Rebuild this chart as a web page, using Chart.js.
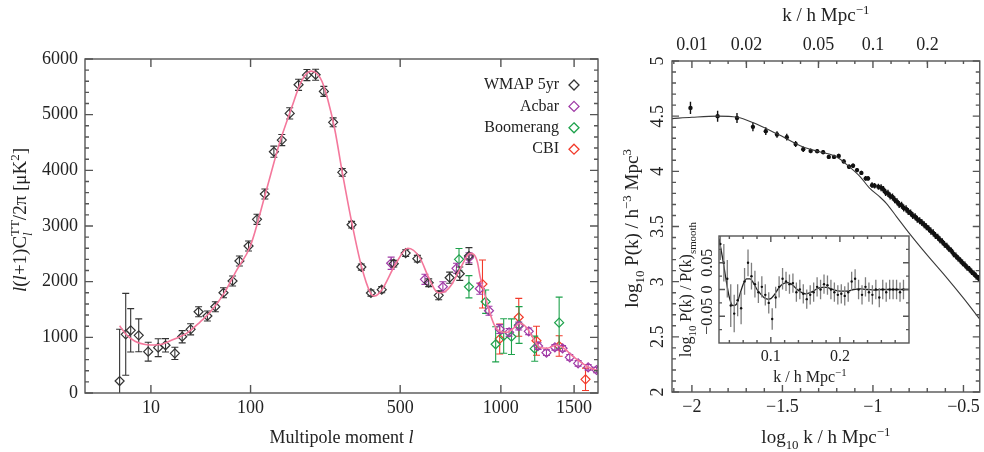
<!DOCTYPE html>
<html>
<head>
<meta charset="utf-8">
<script src="https://cdn.jsdelivr.net/npm/chart.js@4.4.1/dist/chart.umd.min.js"></script>
<style>
  html, body { margin: 0; padding: 0; background: #fff; }
  #wrap { position: relative; width: 984px; height: 452px; overflow: hidden; background: #fff; }
  canvas { position: absolute; }
</style>
</head>
<body>
<div id="wrap">
  <canvas id="cmb" width="620" height="452" style="left:0;top:0"></canvas>
  <canvas id="pk" width="364" height="452" style="left:620px;top:0"></canvas>
  <canvas id="bao" width="270" height="185" style="left:655px;top:210px"></canvas>
</div>
<script>
const FONT = '"Liberation Serif", "Times New Roman", serif';
const INK = '#222';
const FRAME = '#555';

// ---------- left panel: CMB TT power spectrum ----------
const lTicks = [10, 100, 500, 1000, 1500];

const wmapL = [2, 3, 4, 6, 9, 13, 16.5, 21.7, 26.4, 32.5, 39, 47, 55, 64, 75, 84, 97, 110, 123, 139,
  154, 170, 189, 208, 229, 250, 275, 301, 329, 360, 392, 430, 475, 522, 571, 621, 667, 720, 771, 819];
const wmapV = [215, 1054, 1126, 1036, 742, 814, 857, 713, 1011, 1144, 1460, 1383, 1550, 1801, 2012, 2371, 2640, 3120, 3574, 4334,
  4544, 5023, 5537, 5711, 5717, 5418, 4862, 3964, 3023, 2263, 1796, 1856, 2323, 2514, 2413, 1981, 1755, 2071, 2143, 2461];
const wmapE = [930, 735, 390, 295, 170, 160, 120, 110, 110, 100, 90, 90, 90, 90, 90, 90, 90, 90, 90, 100,
  100, 100, 100, 100, 100, 90, 80, 70, 60, 55, 55, 55, 60, 60, 60, 70, 80, 100, 120, 150];

const acbarL = [465, 604, 687, 754, 819, 878, 930, 993, 1050, 1111, 1176, 1239, 1297, 1357, 1413, 1467, 1531, 1610, 1678];
const acbarV = [2330, 2042, 1909, 2240, 2430, 1873, 1478, 1149, 1090, 1203, 1108, 844, 724, 821, 803, 641, 533, 461, 413];
const acbarE = [110, 90, 90, 90, 90, 100, 80, 80, 70, 70, 60, 60, 50, 50, 50, 50, 50, 50, 50];

const boomL = [767, 819, 911, 969, 1017, 1065, 1113, 1216, 1388];
const boomV = [2401, 1909, 1640, 875, 1024, 1011, 1221, 796, 1263];
const boomE = [195, 200, 210, 315, 310, 320, 330, 225, 460];

const cbiL = [893, 993, 1111, 1228, 1388, 1589];
const cbiV = [1958, 970, 1360, 939, 844, 246];
const cbiE = [430, 270, 340, 260, 185, 200];

const modelL = [2, 3, 5, 8, 10, 15, 20, 30, 40, 50, 65, 80, 100, 125, 150, 175, 190, 205, 218, 232,
  245, 260, 280, 300, 330, 360, 390, 405, 430, 480, 531, 580, 620, 650, 665, 690, 730, 780, 825, 845,
  865, 880, 900, 930, 960, 1000, 1040, 1080, 1118, 1160, 1200, 1250, 1300, 1369, 1430, 1480, 1545, 1600, 1660, 1690];
const modelV = [1209, 1060, 930, 870, 862, 880, 952, 1080, 1270, 1460, 1800, 2200, 2650, 3620, 4500, 5150, 5500, 5720, 5783, 5740,
  5600, 5280, 4720, 4000, 3050, 2280, 1800, 1742, 1850, 2300, 2599, 2440, 2080, 1850, 1800, 1810, 1950, 2280, 2509, 2490,
  2350, 2090, 1850, 1490, 1230, 1100, 1090, 1170, 1252, 1180, 1010, 820, 803, 862, 790, 680, 562, 480, 420, 400];

// ---------- right panel: galaxy power spectrum ----------
const topK = [0.01, 0.02, 0.05, 0.1, 0.2];
const logkTicks = [-2, -1.5, -1, -0.5];
const pkYTicks = [2, 2.5, 3, 3.5, 4, 4.5, 5];

const pkX = [-2.008, -1.858, -1.751, -1.663, -1.592, -1.530, -1.476, -1.427, -1.385, -1.344, -1.308, -1.275, -1.244,
  -1.215, -1.189, -1.161, -1.132, -1.110, -1.088, -1.064, -1.040, -1.027, -1.005, -0.991, -0.970,
  -0.955, -0.942, -0.930, -0.917, -0.905, -0.892, -0.880, -0.867, -0.855, -0.842, -0.830, -0.817, -0.805, -0.792,
  -0.780, -0.767, -0.755, -0.742, -0.730, -0.717, -0.705, -0.692, -0.680, -0.667, -0.655, -0.642, -0.630, -0.617,
  -0.605, -0.592, -0.580, -0.567, -0.555, -0.542, -0.530, -0.517, -0.505, -0.492, -0.480, -0.467, -0.455, -0.442, -0.430, -0.417];
const pkY = [4.575, 4.500, 4.484, 4.403, 4.364, 4.334, 4.310, 4.248, 4.200, 4.185, 4.183, 4.174, 4.131,
  4.131, 4.140, 4.090, 4.041, 4.050, 4.011, 3.986, 3.936, 3.936, 3.875, 3.869, 3.860,
  3.852, 3.835, 3.808, 3.800, 3.776, 3.768, 3.742, 3.724, 3.700, 3.692, 3.668, 3.660, 3.636, 3.622,
  3.600, 3.588, 3.566, 3.552, 3.536, 3.516, 3.498, 3.480, 3.458, 3.442, 3.418, 3.402, 3.380, 3.362,
  3.338, 3.322, 3.298, 3.280, 3.252, 3.234, 3.212, 3.192, 3.170, 3.152, 3.128, 3.112, 3.090, 3.072, 3.050, 3.030];
const pkE = [0.055, 0.05, 0.045, 0.04, 0.035, 0.03, 0.03, 0.028, 0.025, 0.022, 0.02, 0.02, 0.02,
  0.02, 0.02, 0.02, 0.02, 0.02, 0.02, 0.02, 0.022, 0.022, 0.025, 0.025, 0.028,
  0.032, 0.032, 0.032, 0.032, 0.032, 0.032, 0.032, 0.032, 0.032, 0.032, 0.032, 0.032, 0.032, 0.032,
  0.032, 0.032, 0.032, 0.032, 0.032, 0.032, 0.032, 0.032, 0.032, 0.032, 0.032, 0.032, 0.032, 0.032,
  0.03, 0.03, 0.03, 0.03, 0.03, 0.03, 0.03, 0.03, 0.03, 0.03, 0.03, 0.03, 0.03, 0.03, 0.03, 0.03];

const pkModelX = [-2.11, -2.0, -1.86, -1.75, -1.66, -1.53, -1.385, -1.29, -1.2, -1.13, -1.07, -1.02, -0.96, -0.926,
  -0.87, -0.80, -0.70, -0.60, -0.50, -0.41];
const pkModelY = [4.478, 4.49, 4.50, 4.49, 4.44, 4.34, 4.22, 4.175, 4.13, 4.04, 3.95, 3.85, 3.765, 3.71,
  3.59, 3.44, 3.24, 3.05, 2.85, 2.66];

// ---------- inset: BAO wiggles ----------
const baoTicksX = [0.1, 0.2];
const baoTicksY = [-0.05, 0, 0.05];
const baoK = [0.027, 0.032, 0.037, 0.042, 0.047, 0.052, 0.057, 0.062, 0.067, 0.072, 0.077, 0.082, 0.087, 0.092,
  0.097, 0.102, 0.107, 0.112, 0.117, 0.122, 0.127, 0.132, 0.137, 0.142, 0.147, 0.152, 0.157, 0.162, 0.167,
  0.172, 0.177, 0.182, 0.187, 0.192, 0.197, 0.202, 0.207, 0.212, 0.217, 0.222, 0.227, 0.232, 0.237, 0.242,
  0.247, 0.252, 0.257, 0.262, 0.267, 0.272, 0.277, 0.282, 0.287, 0.292];
const baoV = [0.085, 0.05, 0.02, -0.03, -0.045, -0.02, -0.035, 0.015, 0.05, 0.025, 0.01, -0.005, 0.005, -0.01,
  -0.025, -0.055, -0.015, 0.005, 0.02, 0.015, 0.01, 0.012, -0.005, 0.0, -0.008, -0.018, -0.01, -0.005, 0.005,
  0.0, 0.01, 0.008, 0.0, -0.005, -0.01, -0.008, -0.012, -0.005, 0.015, 0.02, 0.0, -0.01, 0.005, -0.005,
  -0.01, 0.0, -0.015, 0.0, -0.005, 0.0, 0.0, 0.0, -0.005, 0.0];
const baoE = [0.03, 0.035, 0.035, 0.04, 0.035, 0.03, 0.03, 0.025, 0.025, 0.025, 0.025, 0.02, 0.02, 0.02,
  0.02, 0.02, 0.02, 0.02, 0.02, 0.018, 0.018, 0.018, 0.018, 0.018, 0.018, 0.018, 0.018, 0.018, 0.018,
  0.018, 0.018, 0.018, 0.018, 0.018, 0.018, 0.018, 0.018, 0.018, 0.018, 0.018, 0.018, 0.018, 0.018, 0.018,
  0.018, 0.018, 0.018, 0.018, 0.018, 0.018, 0.018, 0.018, 0.018, 0.018];
const baoModelK = [0.025, 0.03, 0.035, 0.04, 0.045, 0.05, 0.055, 0.06, 0.065, 0.07, 0.075, 0.08, 0.085, 0.09,
  0.095, 0.10, 0.105, 0.11, 0.115, 0.12, 0.125, 0.13, 0.135, 0.14, 0.145, 0.15, 0.155, 0.16, 0.165, 0.17,
  0.175, 0.18, 0.19, 0.20, 0.21, 0.22, 0.23, 0.24, 0.25, 0.26, 0.27, 0.28, 0.29, 0.30];
const baoModelV = [0.095, 0.06, 0.02, -0.015, -0.03, -0.028, -0.01, 0.01, 0.02, 0.02, 0.012, 0.0, -0.008, -0.015,
  -0.018, -0.017, -0.01, 0.0, 0.008, 0.012, 0.013, 0.01, 0.004, -0.002, -0.006, -0.008, -0.007, -0.004, 0.0, 0.003,
  0.004, 0.004, 0.0, -0.003, -0.003, 0.0, 0.001, 0.0, -0.001, 0.0, 0.0, 0.0, 0.0, 0.0];

// the multipole axis is stretched as l^0.4
const lx = l => Math.pow(l, 0.4);
const minus = v => String(v).replace('-', '\u2212');

function pts(xs, ys, f) {
  return xs.map((x, i) => ({ x: f ? f(x) : x, y: ys[i] }));
}

function series(label, xs, ys, es, color) {
  return {
    label, data: pts(xs, ys, lx), errors: es, borderColor: color, backgroundColor: 'rgba(0,0,0,0)',
    pointStyle: 'rectRot', pointRadius: 4.5, pointBorderWidth: 1.2, cap: 3.5, errWidth: 1.1
  };
}

// text with sub/superscripts, centred on (x, y)
function richText(ctx, segs, x, y, size, angle) {
  ctx.save();
  ctx.translate(x, y);
  ctx.rotate(angle || 0);
  ctx.fillStyle = INK;
  ctx.textAlign = 'left';
  ctx.textBaseline = 'alphabetic';
  const parts = segs.map(s => {
    const fs = (s.sub || s.sup) ? size * 0.68 : size;
    const font = (s.it ? 'italic ' : '') + fs + 'px ' + FONT;
    ctx.font = font;
    return { s, font, w: ctx.measureText(s.t).width };
  });
  let total = 0, hold = 0;
  parts.forEach(p => {
    if (p.s.stack) hold = p.w;
    else { total += Math.max(p.w, hold); hold = 0; }
  });
  let cx = -total / 2;
  hold = 0;
  parts.forEach(p => {
    ctx.font = p.font;
    const dy = p.s.sub ? size * 0.28 : p.s.sup ? -size * 0.38 : 0;
    ctx.fillText(p.s.t, cx, size * 0.33 + dy);
    if (p.s.stack) hold = p.w;
    else { cx += Math.max(p.w, hold); hold = 0; }
  });
  ctx.restore();
}

function rotLabel(ctx, text, x, y, size) {
  ctx.save();
  ctx.translate(x, y);
  ctx.rotate(-Math.PI / 2);
  ctx.font = size + 'px ' + FONT;
  ctx.fillStyle = INK;
  ctx.textAlign = 'center';
  ctx.textBaseline = 'middle';
  ctx.fillText(text, 0, 0);
  ctx.restore();
}

function diamond(ctx, x, y, r, color) {
  ctx.beginPath();
  ctx.moveTo(x, y - r); ctx.lineTo(x + r, y); ctx.lineTo(x, y + r); ctx.lineTo(x - r, y);
  ctx.closePath();
  ctx.strokeStyle = color;
  ctx.lineWidth = 1.3;
  ctx.stroke();
}

// vertical error bars, drawn under each dataset's markers
const errorBars = {
  id: 'errorBars',
  beforeDatasetDraw(chart, args) {
    const ds = chart.data.datasets[args.index];
    if (!ds.errors) return;
    const ctx = chart.ctx, a = chart.chartArea, ys = chart.scales.y;
    ctx.save();
    ctx.beginPath();
    ctx.rect(a.left, a.top, a.right - a.left, a.bottom - a.top);
    ctx.clip();
    ctx.strokeStyle = ds.errColor || ds.borderColor;
    ctx.lineWidth = ds.errWidth || 1;
    ctx.beginPath();
    args.meta.data.forEach((p, i) => {
      const v = ds.data[i].y, e = ds.errors[i];
      const top = ys.getPixelForValue(v + e), bot = ys.getPixelForValue(v - e);
      ctx.moveTo(p.x, top); ctx.lineTo(p.x, bot);
      if (ds.cap) {
        ctx.moveTo(p.x - ds.cap, top); ctx.lineTo(p.x + ds.cap, top);
        ctx.moveTo(p.x - ds.cap, bot); ctx.lineTo(p.x + ds.cap, bot);
      }
    });
    ctx.stroke();
    ctx.restore();
  }
};

function frame(ctx, a) {
  ctx.strokeStyle = FRAME;
  ctx.lineWidth = 1.4;
  ctx.strokeRect(a.left, a.top, a.right - a.left, a.bottom - a.top);
}

const cmbDeco = {
  id: 'cmbDeco',
  afterDraw(chart) {
    const ctx = chart.ctx, a = chart.chartArea, xs = chart.scales.x, ys = chart.scales.y;
    ctx.save();
    frame(ctx, a);
    ctx.beginPath();
    for (let v = 0; v <= 6000; v += 200) {
      const y = ys.getPixelForValue(v), len = v % 1000 === 0 ? 8 : 4;
      ctx.moveTo(a.left, y); ctx.lineTo(a.left + len, y);
      ctx.moveTo(a.right, y); ctx.lineTo(a.right - len, y);
    }
    lTicks.forEach(l => {
      const x = xs.getPixelForValue(lx(l));
      ctx.moveTo(x, a.bottom); ctx.lineTo(x, a.bottom - 8);
      ctx.moveTo(x, a.top); ctx.lineTo(x, a.top + 8);
    });
    ctx.stroke();

    // legend, text on the left of the marker
    chart.data.datasets.slice(1).forEach((ds, i) => {
      const y = a.top + 26 + i * 21.4;
      ctx.font = '16px ' + FONT;
      ctx.fillStyle = INK;
      ctx.textAlign = 'right';
      ctx.textBaseline = 'middle';
      ctx.fillText(ds.label, a.right - 39, y);
      diamond(ctx, a.right - 24, y, 5, ds.borderColor);
    });

    richText(ctx, [{ t: 'Multipole moment ' }, { t: 'l', it: 1 }], (a.left + a.right) / 2, 437, 18);
    richText(ctx, [{ t: 'l', it: 1 }, { t: '(' }, { t: 'l', it: 1 }, { t: '+1)C' },
      { t: 'l', it: 1, sub: 1, stack: 1 }, { t: 'TT', sup: 1 }, { t: '/2\u03c0 [\u03bcK' }, { t: '2', sup: 1 }, { t: ']' }],
      20, 220, 19, -Math.PI / 2);
    ctx.restore();
  }
};

const pkDeco = {
  id: 'pkDeco',
  afterDraw(chart) {
    const ctx = chart.ctx, a = chart.chartArea, xs = chart.scales.x, ys = chart.scales.y;
    ctx.save();
    frame(ctx, a);
    ctx.beginPath();
    for (let i = 20; i <= 50; i++) {
      const y = ys.getPixelForValue(i / 10), len = i % 5 === 0 ? 7 : 4;
      ctx.moveTo(a.left, y); ctx.lineTo(a.left + len, y);
      ctx.moveTo(a.right, y); ctx.lineTo(a.right - len, y);
    }
    for (let i = -21; i <= -5; i++) {
      const x = xs.getPixelForValue(i / 10), len = i % 5 === 0 ? 7 : 4;
      ctx.moveTo(x, a.bottom); ctx.lineTo(x, a.bottom - len);
      ctx.moveTo(x, a.top); ctx.lineTo(x, a.top + 3);
    }
    topK.forEach(k => {
      const x = xs.getPixelForValue(Math.log10(k));
      ctx.moveTo(x, a.top); ctx.lineTo(x, a.top + 7);
    });
    ctx.stroke();

    ctx.font = '18px ' + FONT;
    ctx.fillStyle = INK;
    ctx.textAlign = 'center';
    ctx.textBaseline = 'middle';
    topK.forEach(k => ctx.fillText(String(k), xs.getPixelForValue(Math.log10(k)), 45));
    pkYTicks.forEach(v => rotLabel(ctx, String(v), a.left - 14, ys.getPixelForValue(v), 18));

    const cx = (a.left + a.right) / 2;
    richText(ctx, [{ t: 'k / h Mpc' }, { t: '\u22121', sup: 1 }], cx, 15, 19);
    richText(ctx, [{ t: 'log' }, { t: '10', sub: 1 }, { t: ' k / h Mpc' }, { t: '\u22121', sup: 1 }], cx, 437, 19);
    richText(ctx, [{ t: 'log' }, { t: '10', sub: 1 }, { t: ' P(k) / h' }, { t: '\u22123', sup: 1 },
      { t: ' Mpc' }, { t: '3', sup: 1 }], 12, (a.top + a.bottom) / 2 + 2, 19, -Math.PI / 2);
    ctx.restore();
  }
};

const baoDeco = {
  id: 'baoDeco',
  afterDraw(chart) {
    const ctx = chart.ctx, a = chart.chartArea, xs = chart.scales.x, ys = chart.scales.y;
    ctx.save();
    frame(ctx, a);
    ctx.beginPath();
    for (let i = 2; i <= 14; i++) {
      const x = xs.getPixelForValue(i * 0.02), len = i % 5 === 0 ? 6 : 3;
      ctx.moveTo(x, a.bottom); ctx.lineTo(x, a.bottom - len);
      ctx.moveTo(x, a.top); ctx.lineTo(x, a.top + len);
    }
    for (let j = -3; j <= 3; j++) {
      const y = ys.getPixelForValue(j * 0.025), len = j % 2 === 0 ? 6 : 3;
      ctx.moveTo(a.left, y); ctx.lineTo(a.left + len, y);
      ctx.moveTo(a.right, y); ctx.lineTo(a.right - len, y);
    }
    ctx.stroke();
    baoTicksY.forEach(v => rotLabel(ctx, minus(v), a.left - 11, ys.getPixelForValue(v), 16));
    richText(ctx, [{ t: 'k / h Mpc' }, { t: '\u22121', sup: 1 }], (a.left + a.right) / 2 - 4, a.bottom + 34, 16);
    richText(ctx, [{ t: 'log' }, { t: '10', sub: 1 }, { t: ' P(k) / P(k)' }, { t: 'smooth', sub: 1 }],
      31, (a.top + a.bottom) / 2, 16, -Math.PI / 2);
    ctx.restore();
  }
};

const base = {
  responsive: false,
  animation: false,
  events: [],
  plugins: { legend: { display: false }, tooltip: { enabled: false } }
};
const noGrid = { display: false, drawTicks: false };

new Chart(document.getElementById('cmb'), {
  type: 'scatter',
  data: {
    datasets: [
      { label: 'model', data: pts(modelL, modelV, lx), showLine: true, pointRadius: 0,
        borderColor: '#f4789c', borderWidth: 1.6, cubicInterpolationMode: 'monotone' },
      series('WMAP 5yr', wmapL, wmapV, wmapE, '#333333'),
      series('Acbar', acbarL, acbarV, acbarE, '#a03aa6'),
      series('Boomerang', boomL, boomV, boomE, '#1ea24c'),
      series('CBI', cbiL, cbiV, cbiE, '#f23a2a')
    ]
  },
  options: {
    ...base,
    layout: { padding: { top: 59, right: 22, bottom: 0, left: 0 } },
    scales: {
      x: {
        type: 'linear', min: 0, max: lx(1690), grid: noGrid, border: { display: false },
        afterBuildTicks: s => { s.ticks = lTicks.map(l => ({ value: lx(l) })); },
        afterFit: s => { s.height = 59; },
        ticks: { autoSkip: false, maxRotation: 0, padding: 4, color: INK, font: { family: FONT, size: 18 },
          callback: (v, i) => String(lTicks[i]) }
      },
      y: {
        type: 'linear', min: 0, max: 6000, grid: noGrid, border: { display: false },
        afterFit: s => { s.width = 85; },
        ticks: { stepSize: 1000, padding: 7, color: INK, font: { family: FONT, size: 18 },
          callback: v => String(v) }
      }
    }
  },
  plugins: [errorBars, cmbDeco]
});

new Chart(document.getElementById('pk'), {
  type: 'scatter',
  data: {
    datasets: [
      { data: pts(pkModelX, pkModelY), showLine: true, pointRadius: 0, borderColor: '#3a3a3a', borderWidth: 1.1,
        cubicInterpolationMode: 'monotone' },
      { data: pts(pkX, pkY), errors: pkE, borderColor: '#111', backgroundColor: '#111', pointRadius: 2.2,
        pointBorderWidth: 0, errWidth: 1.4 }
    ]
  },
  options: {
    ...base,
    layout: { padding: { top: 61, right: 3, bottom: 0, left: 0 } },
    scales: {
      x: {
        type: 'linear', min: -2.11, max: -0.41, grid: noGrid, border: { display: false },
        afterBuildTicks: s => { s.ticks = logkTicks.map(v => ({ value: v })); },
        afterFit: s => { s.height = 60; },
        ticks: { autoSkip: false, maxRotation: 0, padding: 4, color: INK, font: { family: FONT, size: 18 },
          callback: v => minus(v) }
      },
      y: {
        type: 'linear', min: 2, max: 5, grid: noGrid, border: { display: false },
        afterFit: s => { s.width = 52; },
        ticks: { display: false }
      }
    }
  },
  plugins: [errorBars, pkDeco]
});

new Chart(document.getElementById('bao'), {
  type: 'scatter',
  data: {
    datasets: [
      { data: pts(baoK, baoV), errors: baoE, errColor: '#7d7d7d', errWidth: 1.3, borderColor: '#111',
        backgroundColor: '#111', pointRadius: 1.2, pointBorderWidth: 0 },
      { data: pts(baoModelK, baoModelV), showLine: true, pointRadius: 0, borderColor: '#222', borderWidth: 1.3,
        cubicInterpolationMode: 'monotone' }
    ]
  },
  options: {
    ...base,
    layout: { padding: { top: 26, right: 16, bottom: 0, left: 0 } },
    scales: {
      x: {
        type: 'linear', min: 0.025, max: 0.3, grid: noGrid, border: { display: false },
        afterBuildTicks: s => { s.ticks = baoTicksX.map(v => ({ value: v })); },
        afterFit: s => { s.height = 52; },
        ticks: { autoSkip: false, maxRotation: 0, padding: 4, color: INK, font: { family: FONT, size: 16 } }
      },
      y: {
        type: 'linear', min: -0.1, max: 0.1, grid: noGrid, border: { display: false },
        afterFit: s => { s.width = 64; },
        ticks: { display: false }
      }
    }
  },
  plugins: [errorBars, baoDeco]
});
</script>
</body>
</html>
